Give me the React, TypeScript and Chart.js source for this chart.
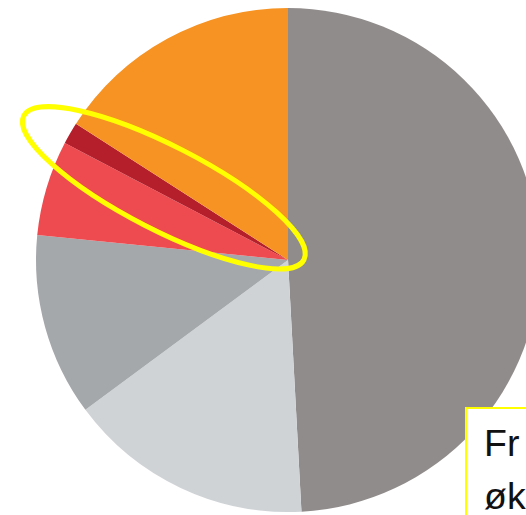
import React, { useEffect, useRef } from "react";
import { Chart, registerables } from "chart.js";

Chart.register(...registerables);

const categories = ["Segment A", "Segment B", "Segment C", "Segment D", "Segment E", "Segment F"];
const shares = [49.1, 15.7, 11.7, 6.1, 1.4, 15.9];
const sliceColors = ["#908c8b", "#d0d3d6", "#a5a8ab", "#ee4b50", "#b51e2b", "#f69322"];
const highlightIndex = 4;
const noteLines = ["Fra", "økt"];
const noteClipWidths = [36, 60];

const ellipsePlugin = {
  id: "highlightEllipse",
  afterDraw(chart: any) {
    const meta = chart.getDatasetMeta(0);
    const arc = meta.data[highlightIndex];
    if (!arc) return;
    const { x, y, startAngle, endAngle, outerRadius } = arc.getProps(
      ["x", "y", "startAngle", "endAngle", "outerRadius"],
      true
    );
    const mid = (startAngle + endAngle) / 2;
    const R = outerRadius;
    const cx = x + Math.cos(mid) * 0.57 * R;
    const cy = y + Math.sin(mid) * 0.57 * R;
    const ctx = chart.ctx;
    ctx.save();
    ctx.beginPath();
    ctx.ellipse(cx, cy, 0.625 * R, 0.167 * R, mid - (3 * Math.PI) / 180, 0, Math.PI * 2);
    ctx.strokeStyle = "#ffff00";
    ctx.lineWidth = 5;
    ctx.stroke();
    ctx.restore();
  },
};

export default function App() {
  const ref = useRef<HTMLCanvasElement>(null);
  useEffect(() => {
    if (!ref.current) return;
    const chart = new Chart(ref.current, {
      type: "pie",
      data: {
        labels: categories,
        datasets: [
          {
            data: shares,
            backgroundColor: sliceColors,
            borderWidth: 0,
            hoverOffset: 0,
            offset: 0,
          },
        ],
      },
      options: {
        responsive: false,
        animation: false,
        devicePixelRatio: 1,
        layout: { padding: { left: 0, right: 24, top: 8, bottom: 3 } },
        plugins: {
          legend: { display: false },
          tooltip: { enabled: false },
        },
      },
      plugins: [ellipsePlugin],
    });
    return () => chart.destroy();
  }, []);

  return (
    <div
      style={{
        position: "fixed",
        left: 0,
        top: 0,
        width: 526,
        height: 515,
        overflow: "hidden",
        background: "#ffffff",
      }}
    >
      <canvas
        ref={ref}
        width={600}
        height={515}
        style={{ position: "absolute", left: 0, top: 0, width: 600, height: 515, display: "block" }}
      />
      <div
        style={{
          position: "absolute",
          left: 465,
          top: 407,
          width: 200,
          height: 200,
          border: "2px solid #ffff00",
          background: "#ffffff",
          boxSizing: "border-box",
          padding: "8px 0 0 17px",
          fontFamily: "'Liberation Sans', Arial, sans-serif",
          fontSize: 37.5,
          lineHeight: "53px",
          color: "#111111",
          whiteSpace: "nowrap",
        }}
      >
        {noteLines.map((t, i) => (
          <div key={i} style={{ width: noteClipWidths[i], overflow: "hidden" }}>
            {t}
          </div>
        ))}
      </div>
    </div>
  );
}
